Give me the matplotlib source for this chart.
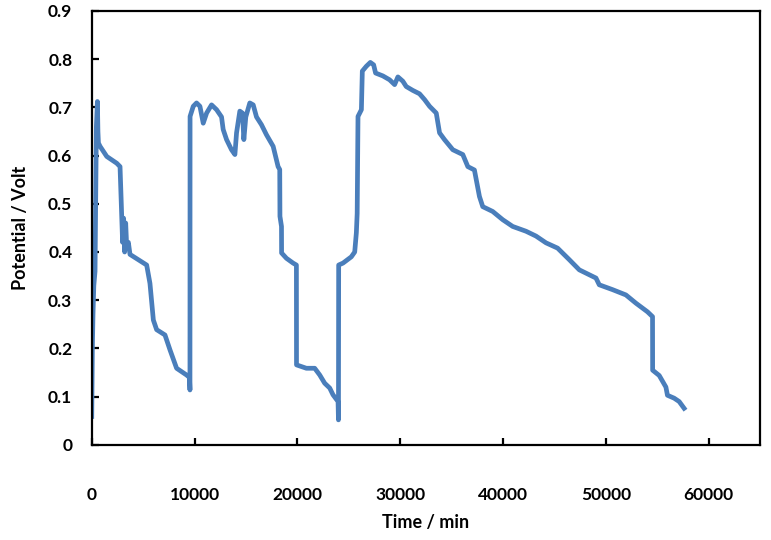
import matplotlib.pyplot as plt
from matplotlib.ticker import MultipleLocator, FormatStrFormatter

# potential vs time
time_min = [0, 60, 120, 200, 320, 450, 550, 600, 650, 810, 1460, 2430, 2750,
            2900, 3000, 3100, 3200, 3300, 3400, 3560, 3720, 5340, 5660, 5990,
            6310, 7120, 7610, 8250, 9220, 9500, 9550, 9560, 9870, 10190, 10520,
            10840, 11170, 11650, 12140, 12620, 12780, 13110, 13590, 13920,
            14080, 14400, 14660, 14790, 14980, 15370, 15700, 16020, 16500,
            16990, 17640, 17800, 18120, 18280, 18300, 18450, 18460, 18930,
            19580, 19900, 19910, 20870, 21680, 22170, 22650, 23140, 23460,
            23950, 23990, 24010, 24430, 25240, 25570, 25730, 25810, 25890,
            26220, 26310, 26700, 27090, 27410, 27600, 28310, 28960, 29450,
            29770, 30250, 30580, 31220, 31870, 32360, 32850, 33500, 33820,
            34300, 35110, 36080, 36570, 37210, 37700, 38020, 38990, 39960,
            40930, 42230, 43200, 44170, 45300, 46440, 47410, 49030, 49350,
            50640, 51940, 52910, 54040, 54530, 54540, 55180, 55830, 55980,
            56630, 57120, 57600]
potential = [0.059, 0.20, 0.27, 0.33, 0.36, 0.66, 0.712, 0.65, 0.626, 0.619,
             0.598, 0.584, 0.577, 0.48, 0.42, 0.47, 0.40, 0.46, 0.41, 0.42,
             0.395, 0.373, 0.335, 0.259, 0.239, 0.228, 0.197, 0.159, 0.145,
             0.14, 0.114, 0.681, 0.702, 0.709, 0.702, 0.667, 0.688, 0.705,
             0.695, 0.68, 0.654, 0.633, 0.612, 0.602, 0.647, 0.692, 0.688,
             0.633, 0.68, 0.709, 0.705, 0.68, 0.664, 0.643, 0.619, 0.605,
             0.577, 0.571, 0.474, 0.453, 0.398, 0.387, 0.377, 0.373, 0.166,
             0.159, 0.159, 0.145, 0.128, 0.118, 0.104, 0.09, 0.052, 0.373,
             0.377, 0.39, 0.40, 0.44, 0.48, 0.681, 0.695, 0.775, 0.785, 0.793,
             0.788, 0.771, 0.765, 0.757, 0.747, 0.763, 0.754, 0.743, 0.735,
             0.728, 0.716, 0.702, 0.688, 0.647, 0.633, 0.612, 0.602, 0.577,
             0.57, 0.515, 0.494, 0.484, 0.467, 0.453, 0.443, 0.433, 0.419,
             0.408, 0.384, 0.363, 0.346, 0.332, 0.322, 0.311, 0.294, 0.276,
             0.266, 0.155, 0.144, 0.12, 0.103, 0.097, 0.09, 0.076]

plt.rcParams['font.family'] = ['Lato', 'DejaVu Sans']
plt.rcParams['font.weight'] = 'bold'

fig = plt.figure(figsize=(7.71, 5.40), dpi=100)
ax = fig.add_axes([0.119, 0.176, 0.867, 0.804])

ax.plot(time_min, potential, color='#4a7ebb', linewidth=3.4,
        solid_joinstyle='round')

ax.set_xlim(0, 65000)
ax.set_ylim(0, 0.9)
ax.set_xticks([0, 10000, 20000, 30000, 40000, 50000, 60000])
ax.yaxis.set_major_locator(MultipleLocator(0.1))
ax.yaxis.set_major_formatter(FormatStrFormatter('%g'))

for s in ax.spines.values():
    s.set_linewidth(1.6)
ax.tick_params(direction='in', length=5, width=1.6, labelsize=12.5)
ax.tick_params(axis='x', pad=30)
ax.tick_params(axis='y', pad=14)

ax.set_xlabel('Time / min', fontsize=13, fontweight='bold', labelpad=8)
ax.set_ylabel('Potential / Volt', fontsize=13, fontweight='bold', labelpad=14)

fig.savefig('out.png', dpi=100)
